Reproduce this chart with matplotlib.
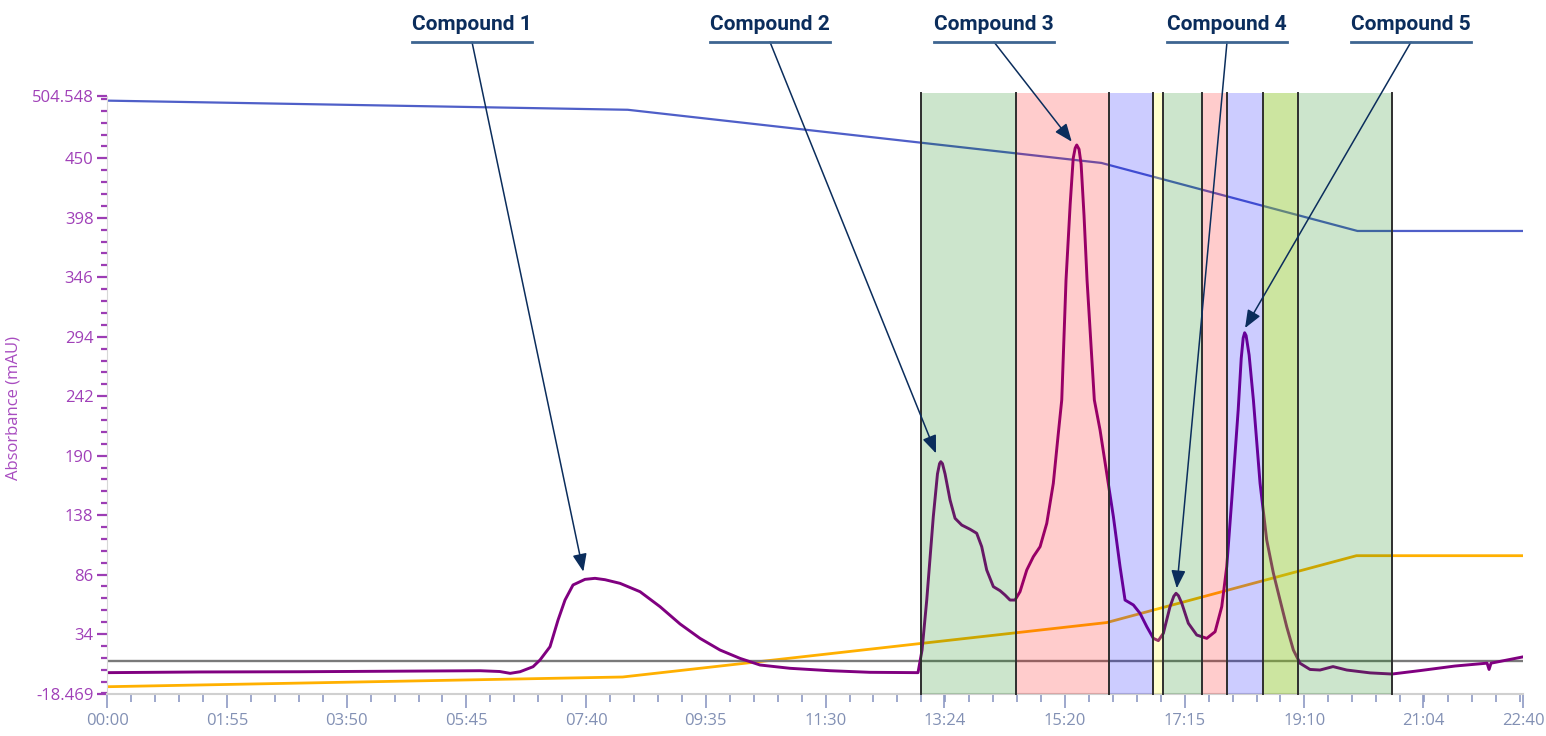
import matplotlib
matplotlib.use('Agg')
import matplotlib.pyplot as plt
import numpy as np
from matplotlib.lines import Line2D

plt.rcParams['font.family'] = ['Open Sans', 'DejaVu Sans']

# time in seconds, absorbance in mAU
uv_t = [0, 89, 185, 281, 358, 377, 387, 396.5, 409, 415.7, 425.3, 433, 439.7, 447.4, 458.9,
        468.5, 478.1, 492.6, 511.8, 531, 550.2, 569.4, 588.6, 607.8, 627, 655.9, 694.3, 732.7,
        778.8, 782.7, 787.2, 793.5, 797.5, 799.5, 800.7, 802.3, 804.8, 809.6, 814.4, 820.8,
        828.8, 835.2, 840, 844.8, 851.2, 857.6, 862.4, 867.2, 872, 876.8, 883.3, 889.6, 896.1,
        902.5, 908.8, 913.6, 916.9, 921, 925.0, 927.9, 929.8, 931.3, 933.5, 935.5, 938.3,
        941.2, 948.2, 953.7, 960.1, 966.5, 972.9, 977.7, 985.7, 992.1, 998.6, 1004.9, 1009.7,
        1014.5, 1020.9, 1024.5, 1026.7, 1029, 1032.2, 1038.5, 1046.6, 1056.2, 1064.2, 1070.6,
        1075.4, 1080.2, 1086.4, 1089.3, 1091.2, 1092.6, 1094.0, 1096.9, 1101, 1107.4, 1113.8,
        1120.2, 1126.6, 1133, 1139.4, 1145.8, 1155.4, 1165, 1177.5, 1190.7, 1213.1, 1234.2,
        1261.1, 1294.7, 1325.5, 1327.4, 1329.3, 1360]
uv_v = [0.2, 0.8, 1.0, 1.5, 1.9, 1.2, -0.4, 1.0, 5.4, 11.3, 22.9, 46.2, 63.7, 76.9, 81.8,
        82.7, 81.5, 78.3, 71.0, 57.9, 42.8, 30.2, 20.0, 12.7, 6.9, 4.0, 1.9, 0.5,
        0.2, 20, 63.7, 136.6, 174, 183, 184.7, 183, 174, 151.2, 135.2, 129.3,
        125.6, 122.1, 110.4, 90.0, 75.4, 71.9, 68.1, 63.7, 63.7, 71.0, 90.0, 101.6, 110.4,
        130.8, 165.8, 209.5, 238.7, 343.6, 410, 450, 459, 461.7, 458, 445, 400,
        343.6, 238.7, 212.4, 174.6, 136.6, 92.9, 63.7, 59.4, 52.1, 40.4, 30.2, 28.2,
        34.6, 57.9, 67, 69.6, 67.5, 60.9, 43.4, 33.1, 30.2, 36.0, 57.9,
        92.9, 151.2, 230, 275, 293, 297.5, 295, 278, 238.7, 165.8, 116.2,
        87.2, 63.7, 40.4, 20.0, 8.4, 3.0, 2.5, 5.5, 2.5, 0, -1,
        2, 6, 8.5, 3, 8.5, 14]

grad_t = [0, 500, 955, 1201, 1360]
grad_v = [500.5, 492.5, 446, 386.5, 386.5]

solv_t = [0, 495, 960, 1200, 1360]
solv_v = [-12.1, -3.6, 44, 102.5, 102.5]

threshold = 10.4

frac_edges = [781.4, 872.5, 962.3, 1004.6, 1014.2, 1051.7, 1075.7, 1110.3, 1143.9, 1234.2]
frac_colors = [(0, 0.5, 0, 0.2), (1, 0, 0, 0.2), (0, 0, 1, 0.2), (1, 1, 0, 0.2),
               (0, 0.5, 0, 0.2), (1, 0, 0, 0.2), (0, 0, 1, 0.2), (0.5, 0.745, 0.07, 0.4),
               (0, 0.5, 0, 0.2)]

compounds = ['Compound 1', 'Compound 2', 'Compound 3', 'Compound 4', 'Compound 5']
tip_t = [457.3, 796.1, 926.5, 1027.4, 1093]
tip_v = [88.5, 192.0, 464.6, 74.0, 301.6]
label_x = [472, 770, 994, 1227, 1411]

xtick_pos = [0, 115, 230, 345, 460, 575, 690, 804, 920, 1035, 1150, 1264, 1360]
xtick_lab = ['00:00', '01:55', '03:50', '05:45', '07:40', '09:35', '11:30', '13:24',
             '15:20', '17:15', '19:10', '21:04', '22:40']
ytick_pos = [-18.469, 34, 86, 138, 190, 242, 294, 346, 398, 450, 504.548]
ytick_lab = ['-18.469', '34', '86', '138', '190', '242', '294', '346', '398', '450', '504.548']

W, H = 1546, 736
fig = plt.figure(figsize=(W / 100, H / 100), dpi=100)
ax = fig.add_axes([107.3 / W, 1 - 694 / H, 1415.7 / W, 598 / H])
ax.set_xlim(0, 1360)
ax.set_ylim(-18.469, 504.548)

ax.plot(solv_t, solv_v, color='#ffb000', lw=2.0, zorder=2)
ax.axhline(threshold, color='#7a7a7a', lw=1.7, zorder=2)
ax.plot(grad_t, grad_v, color='#4f5fc8', lw=1.6, zorder=2)
ax.plot(uv_t, uv_v, color='#800080', lw=2.1, zorder=2, solid_joinstyle='round')

for i in range(len(frac_colors)):
    ax.axvspan(frac_edges[i], frac_edges[i + 1], ymin=0, ymax=1.005,
               color=frac_colors[i], lw=0, zorder=3, clip_on=False)
for e in frac_edges:
    ax.axvline(e, ymin=0, ymax=1.005, color='#2e2e2e', lw=1.4, zorder=4, clip_on=False)

# axes styling
for s in ['top', 'right']:
    ax.spines[s].set_visible(False)
ax.spines['left'].set_color('#d8d8d8')
ax.spines['bottom'].set_color('#d0d0d0')
ax.spines['bottom'].set_linewidth(1.5)

ax.set_xticks(xtick_pos)
ax.set_xticklabels(xtick_lab)
ax.set_xticks(np.arange(0, 1361, 23), minor=True)
ax.tick_params(axis='x', which='major', length=10, width=1.2, color='#8e9ac4',
               labelcolor='#8290b4', labelsize=12, pad=4)
ax.tick_params(axis='x', which='minor', length=6, width=1.2, color='#8e9ac4')

ax.set_yticks(ytick_pos)
ax.set_yticklabels(ytick_lab)
ax.set_yticks(np.arange(34 - 5 * 10.4, 505, 10.4), minor=True)
ax.tick_params(axis='y', which='major', length=7, width=1.6, color='#9c3cb4',
               labelcolor='#a040b8', labelsize=12, pad=3)
ax.tick_params(axis='y', which='minor', length=4.5, width=1.6, color='#9c3cb4')

ax.set_ylabel('Absorbance (mAU)', color='#a84cc0', fontsize=12)
ax.yaxis.set_label_coords((22 - 107.3) / 1415.7, 0.478)

# compound labels with underline and arrows
txts = []
for name, lx in zip(compounds, label_x):
    t = fig.text(lx / W, 1 - 25 / H, name, ha='center', va='center', fontsize=15,
                 fontweight='bold', color='#0b2d5c', family=['Roboto', 'DejaVu Sans'])
    txts.append(t)

fig.canvas.draw()
for t, lx, tt, tv in zip(txts, label_x, tip_t, tip_v):
    bb = t.get_window_extent()
    uy = 1 - 42 / H
    fig.add_artist(Line2D([bb.x0 / W, bb.x1 / W], [uy, uy], color='#3d6591', lw=2.0,
                          transform=fig.transFigure))
    ax.annotate('', xy=(tt, tv), xycoords='data', xytext=(lx / W, uy),
                textcoords='figure fraction', annotation_clip=False,
                arrowprops=dict(arrowstyle='-|>,head_length=0.4,head_width=0.16',
                                color='#0b2d5c', lw=1.1, mutation_scale=27,
                                shrinkA=0, shrinkB=0), zorder=6)

fig.savefig('out.png', dpi=100)
